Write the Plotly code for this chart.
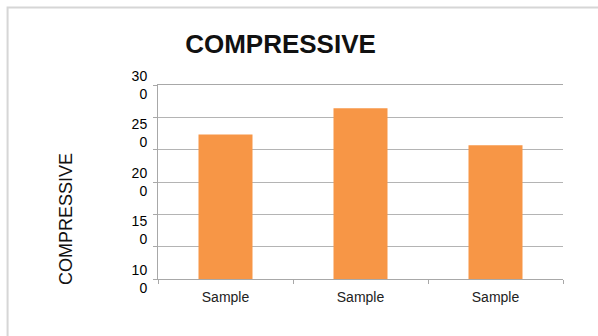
import numpy as np
import plotly.graph_objects as go

# Data
samples = ["Sample", "Sample", "Sample"]
compressive = [249, 276, 238]

# Value axis
y_min, y_max = 100, 300
label_vals = [100, 150, 200, 250, 300]
label_text = ["10<br>0", "15<br>0", "20<br>0", "25<br>0", "30<br>0"]
grid_vals = list(np.linspace(y_min, y_max, 7))

FONT = "Liberation Sans, Arial, sans-serif"
BAR = "#F79646"
GRID = "#b4b4b4"
AXIS = "#a8a8a8"

x_pos = list(range(len(samples)))

fig = go.Figure()
fig.add_trace(go.Bar(
    x=x_pos, y=compressive, marker=dict(color=BAR, line=dict(width=0)),
    width=0.4, yaxis="y", hoverinfo="skip",
))
# invisible trace carrying the gridline axis
fig.add_trace(go.Scatter(
    x=[x_pos[0]], y=[y_min], yaxis="y2", mode="markers",
    marker=dict(opacity=0), showlegend=False, hoverinfo="skip",
))

fig.update_layout(
    width=598, height=336,
    margin=dict(l=157.5, r=34.5, t=85, b=56.7),
    paper_bgcolor="white", plot_bgcolor="white",
    showlegend=False,
    font=dict(family=FONT, color="#1a1a1a"),
    title=dict(
        text="<b>COMPRESSIVE</b>", font=dict(size=26, color="#111111", family=FONT),
        x=280.5 / 598, xanchor="center", xref="container",
        y=1 - 43.5 / 336, yanchor="middle", yref="container",
    ),
    xaxis=dict(
        range=[-0.5, 2.5], tickmode="array", tickvals=x_pos, ticktext=samples,
        ticks="", showgrid=False, zeroline=False,
        # mirrored line forms the top gridline at the range end
        showline=True, mirror=True, linecolor=AXIS, linewidth=1,
        tickfont=dict(size=14, color="#222222"),
        ticklabelstandoff=5,
        minor=dict(tickmode="array", tickvals=[-0.5, 0.5, 1.5, 2.5],
                   ticks="outside", ticklen=4, tickcolor=AXIS, showgrid=False),
    ),
    yaxis=dict(
        range=[y_min, y_max], tickmode="array", tickvals=label_vals, ticktext=label_text,
        ticks="", showgrid=False, zeroline=False,
        showline=True, linecolor=AXIS, linewidth=1,
        tickfont=dict(size=14, color="#000000"),
        ticklabelstandoff=7,
    ),
    yaxis2=dict(
        range=[y_min, y_max], overlaying="y", side="left",
        tickmode="array", tickvals=grid_vals, showticklabels=False,
        ticks="outside", ticklen=4, tickcolor=AXIS,
        showgrid=True, gridcolor=GRID, gridwidth=1, zeroline=False, showline=False,
    ),
    annotations=[dict(
        text="COMPRESSIVE", textangle=-90, showarrow=False,
        xref="paper", yref="paper",
        x=(65.5 - 157.5) / 406, y=(279.3 - 219) / 194.3,
        xanchor="center", yanchor="middle",
        font=dict(size=18, color="#111111", family=FONT),
    )],
    shapes=[dict(
        type="rect", xref="paper", yref="paper",
        x0=(6.7 - 157.5) / 406, x1=1.3, y0=-0.6, y1=(279.3 - 7.3) / 194.3,
        line=dict(color="#d6d6d6", width=2), fillcolor="rgba(0,0,0,0)", layer="below",
    )],
)

fig.write_html("out.html")
